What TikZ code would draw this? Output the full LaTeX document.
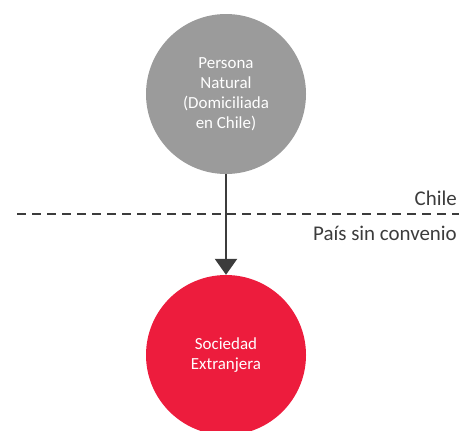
\documentclass[tikz,border=0pt]{standalone}
\usepackage{fontspec}
\setmainfont{Carlito}
\usetikzlibrary{arrows.meta}

\definecolor{circgray}{HTML}{9B9B9B}
\definecolor{circred}{HTML}{ED1C3D}
\definecolor{linegray}{HTML}{3C3C3C}

\tikzset{
  ent/.style={circle, draw=none, minimum size=160bp, inner sep=0pt, text=white,
    align=center, font=\fontsize{17}{20}\selectfont},
  lbl/.style={anchor=base east, text=linegray, font=\fontsize{21}{24}\selectfont, inner sep=0pt}
}

\begin{document}
\begin{tikzpicture}[x=1bp,y=-1bp]
\useasboundingbox (0,0) rectangle (459,430);

\node[ent, fill=circgray](persona)at(226,94){Persona\\Natural\\(Domiciliada\\en Chile)};
\node[ent, fill=circred](sociedad)at(226,355){Sociedad\\Extranjera};

\draw[linegray, line width=2bp, dash pattern=on 9bp off 6bp](17,214)--(459,214);
\node[lbl](chile)at(457,205){Chile};
\node[lbl](pais)at(457,240){País sin convenio};

\draw[linegray, line width=2.5bp, -{Triangle[width=22bp,length=16bp]}](persona)--(sociedad);

\end{tikzpicture}
\end{document}
